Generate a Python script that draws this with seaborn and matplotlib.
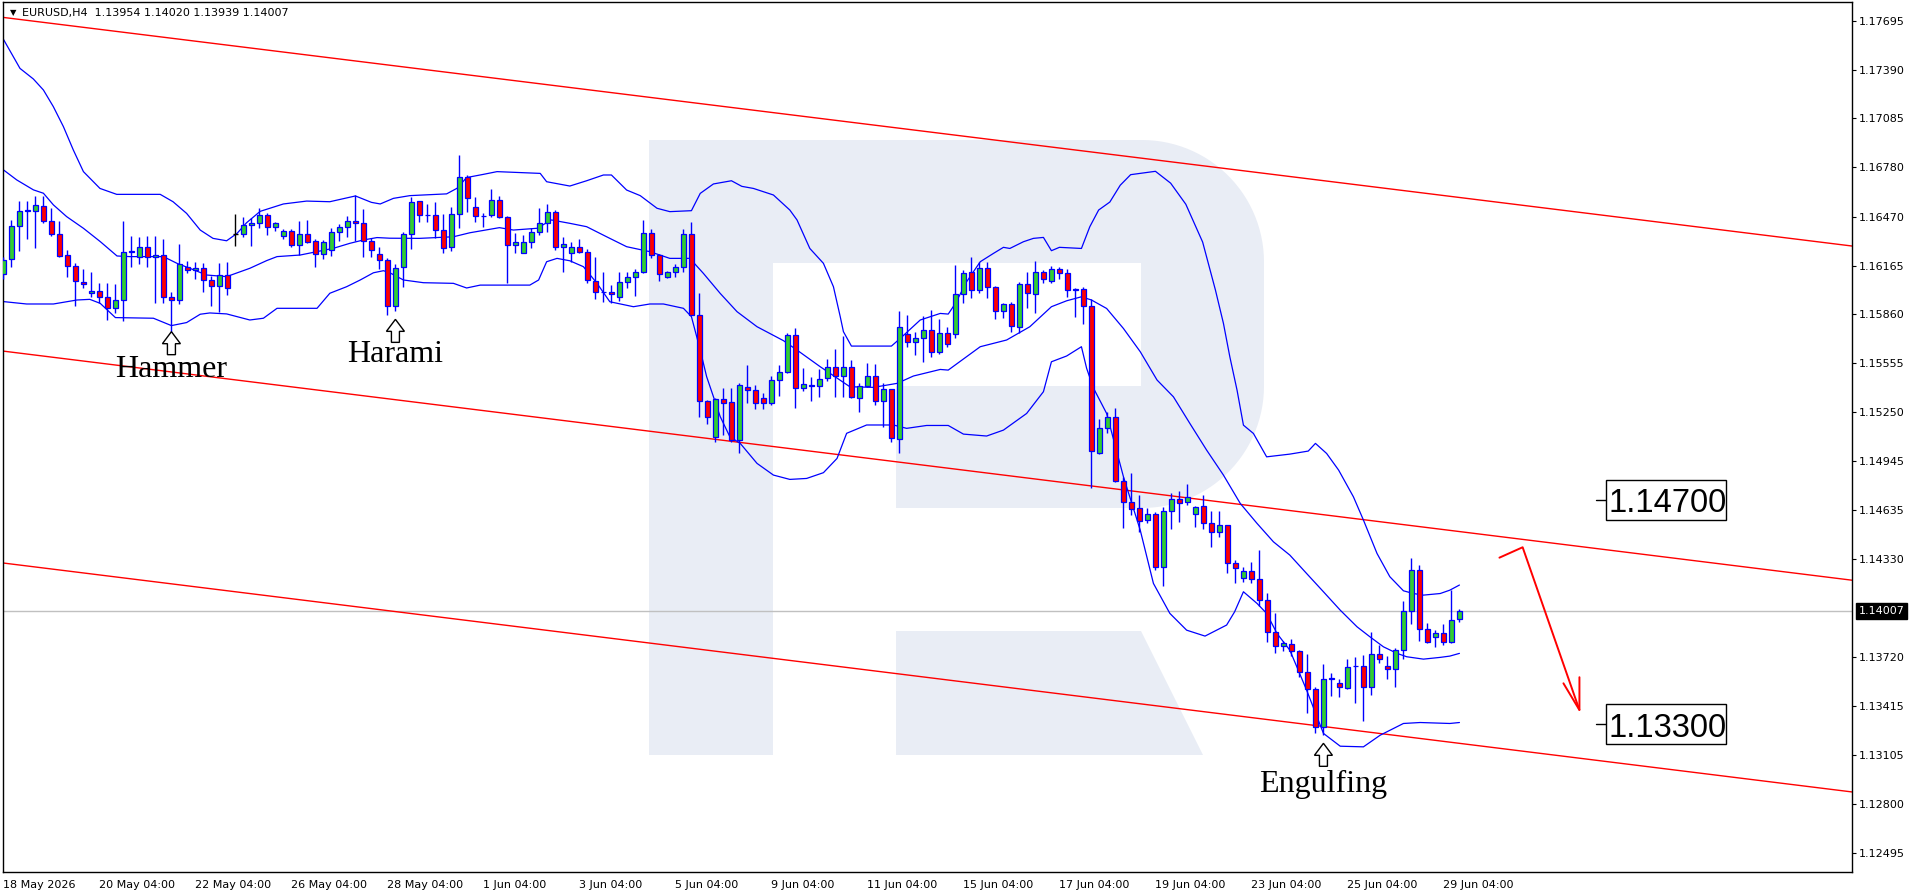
import numpy as np
import matplotlib
matplotlib.use("Agg")
import matplotlib.pyplot as plt
import seaborn as sns
from matplotlib.patches import Rectangle, Polygon
import matplotlib.transforms as mtransforms

# EURUSD H4 candles, bar index 0 = 18 May 2026
opens = [1.16111, 1.16204, 1.16410, 1.16504, 1.16506, 1.16538, 1.16444, 1.16361, 1.16229, 1.16163,
         1.16063, 1.15992, 1.16006, 1.15967, 1.15898, 1.15948, 1.16248, 1.16221, 1.16279, 1.16217,
         1.16229, 1.15967, 1.15948, 1.16154, 1.16138, 1.16150, 1.16073, 1.16036, 1.16104, 1.16361,
         1.16361, 1.16417, 1.16431, 1.16479, 1.16404, 1.16348, 1.16381, 1.16292, 1.16361, 1.16319,
         1.16238, 1.16263, 1.16373, 1.16404, 1.16444, 1.16429, 1.16319, 1.16235, 1.16198, 1.15912,
         1.16154, 1.16360, 1.16566, 1.16479, 1.16479, 1.16387, 1.16279, 1.16485, 1.16716, 1.16529,
         1.16475, 1.16479, 1.16573, 1.16466, 1.16291, 1.16246, 1.16310, 1.16373, 1.16429, 1.16498,
         1.16279, 1.16241, 1.16279, 1.16248, 1.16071, 1.15998, 1.15998, 1.15966, 1.16060, 1.16093,
         1.16123, 1.16366, 1.16231, 1.16091, 1.16123, 1.16154, 1.16360, 1.15854, 1.15319, 1.15091,
         1.15331, 1.15310, 1.15075, 1.15408, 1.15387, 1.15335, 1.15304, 1.15450, 1.15498, 1.15731,
         1.15402, 1.15412, 1.15414, 1.15460, 1.15529, 1.15477, 1.15529, 1.15335, 1.15414, 1.15477,
         1.15319, 1.15391, 1.15079, 1.15737, 1.15689, 1.15710, 1.15762, 1.15627, 1.15741, 1.15735,
         1.15985, 1.16123, 1.16012, 1.16148, 1.16029, 1.15881, 1.15923, 1.15779, 1.16048, 1.15987,
         1.16127, 1.16068, 1.16141, 1.16116, 1.16016, 1.16016, 1.15912, 1.14991, 1.15148, 1.15220,
         1.14821, 1.14685, 1.14648, 1.14575, 1.14610, 1.14279, 1.14633, 1.14704, 1.14685, 1.14610,
         1.14662, 1.14554, 1.14498, 1.14541, 1.14304, 1.14216, 1.14258, 1.14204, 1.14075, 1.13877,
         1.13787, 1.13798, 1.13756, 1.13623, 1.13519, 1.13279, 1.13585, 1.13554, 1.13523, 1.13662,
         1.13665, 1.13529, 1.13735, 1.13662, 1.13642, 1.13762, 1.14006, 1.14266, 1.13892, 1.13842,
         1.13871, 1.13815, 1.13954]
highs = [1.16217, 1.16450, 1.16569, 1.16569, 1.16600, 1.16600, 1.16523, 1.16444, 1.16263, 1.16179,
         1.16142, 1.16127, 1.16058, 1.16054, 1.16048, 1.16446, 1.16350, 1.16346, 1.16350, 1.16350,
         1.16333, 1.16002, 1.16298, 1.16196, 1.16190, 1.16179, 1.16100, 1.16179, 1.16188, 1.16488,
         1.16467, 1.16461, 1.16523, 1.16492, 1.16440, 1.16396, 1.16392, 1.16446, 1.16450, 1.16331,
         1.16325, 1.16402, 1.16425, 1.16475, 1.16604, 1.16519, 1.16335, 1.16283, 1.16210, 1.16173,
         1.16377, 1.16595, 1.16570, 1.16550, 1.16560, 1.16485, 1.16529, 1.16856, 1.16731, 1.16591,
         1.16496, 1.16641, 1.16602, 1.16475, 1.16370, 1.16354, 1.16398, 1.16523, 1.16550, 1.16512,
         1.16341, 1.16314, 1.16329, 1.16266, 1.16221, 1.16123, 1.16044, 1.16123, 1.16123, 1.16141,
         1.16450, 1.16393, 1.16235, 1.16133, 1.16175, 1.16395, 1.16437, 1.15991, 1.15325, 1.15335,
         1.15398, 1.15398, 1.15429, 1.15543, 1.15418, 1.15366, 1.15475, 1.15543, 1.15745, 1.15773,
         1.15523, 1.15471, 1.15518, 1.15579, 1.15641, 1.15725, 1.15575, 1.15429, 1.15554, 1.15548,
         1.15429, 1.15393, 1.15883, 1.15856, 1.15748, 1.15850, 1.15887, 1.15829, 1.15779, 1.16168,
         1.16137, 1.16216, 1.16189, 1.16189, 1.16037, 1.15933, 1.15939, 1.16064, 1.16123, 1.16193,
         1.16137, 1.16162, 1.16154, 1.16143, 1.16023, 1.16029, 1.15954, 1.15204, 1.15252, 1.15273,
         1.14845, 1.14866, 1.14731, 1.14648, 1.14627, 1.14654, 1.14741, 1.14756, 1.14800, 1.14662,
         1.14731, 1.14633, 1.14633, 1.14545, 1.14325, 1.14279, 1.14314, 1.14387, 1.14117, 1.13992,
         1.13821, 1.13829, 1.13762, 1.13741, 1.13533, 1.13675, 1.13621, 1.13579, 1.13706, 1.13717,
         1.13731, 1.13877, 1.13794, 1.13725, 1.13773, 1.14071, 1.14335, 1.14294, 1.13929, 1.13887,
         1.13925, 1.14141, 1.14020]
lows = [1.16079, 1.16158, 1.16258, 1.16329, 1.16277, 1.16429, 1.16350, 1.16221, 1.16096, 1.15915,
        1.16023, 1.15971, 1.15929, 1.15825, 1.15867, 1.15821, 1.16154, 1.16175, 1.16154, 1.15929,
        1.15929, 1.15746, 1.15925, 1.16117, 1.16079, 1.16002, 1.15915, 1.15877, 1.15979, 1.16288,
        1.16346, 1.16290, 1.16398, 1.16356, 1.16383, 1.16331, 1.16283, 1.16231, 1.16304, 1.16154,
        1.16206, 1.16227, 1.16321, 1.16342, 1.16321, 1.16217, 1.16217, 1.16144, 1.15854, 1.15883,
        1.16029, 1.16266, 1.16439, 1.16439, 1.16335, 1.16241, 1.16258, 1.16398, 1.16502, 1.16439,
        1.16408, 1.16466, 1.16460, 1.16058, 1.16246, 1.16241, 1.16273, 1.16354, 1.16377, 1.16262,
        1.16127, 1.16185, 1.16241, 1.16058, 1.15954, 1.15939, 1.15933, 1.15946, 1.16023, 1.15977,
        1.16121, 1.16214, 1.16071, 1.16085, 1.16096, 1.16123, 1.15854, 1.15216, 1.15173, 1.15060,
        1.15106, 1.15060, 1.14991, 1.15308, 1.15266, 1.15266, 1.15293, 1.15352, 1.15491, 1.15277,
        1.15383, 1.15321, 1.15346, 1.15446, 1.15346, 1.15346, 1.15335, 1.15248, 1.15408, 1.15293,
        1.15158, 1.15064, 1.14996, 1.15654, 1.15606, 1.15564, 1.15596, 1.15610, 1.15658, 1.15714,
        1.15933, 1.15964, 1.15996, 1.15960, 1.15829, 1.15835, 1.15752, 1.15746, 1.15902, 1.15870,
        1.16054, 1.16058, 1.16079, 1.15966, 1.15846, 1.15800, 1.14773, 1.14987, 1.15116, 1.14810,
        1.14523, 1.14606, 1.14502, 1.14554, 1.14262, 1.14164, 1.14516, 1.14560, 1.14669, 1.14533,
        1.14516, 1.14408, 1.14467, 1.14246, 1.14183, 1.14189, 1.14179, 1.14037, 1.13814, 1.13746,
        1.13758, 1.13725, 1.13596, 1.13371, 1.13242, 1.13231, 1.13475, 1.13467, 1.13519, 1.13433,
        1.13321, 1.13481, 1.13679, 1.13585, 1.13533, 1.13704, 1.13925, 1.13821, 1.13804, 1.13783,
        1.13794, 1.13808, 1.13939]
closes = [1.16200, 1.16413, 1.16506, 1.16510, 1.16542, 1.16442, 1.16361, 1.16227, 1.16163, 1.16067,
          1.16048, 1.16006, 1.15967, 1.15898, 1.15948, 1.16248, 1.16256, 1.16281, 1.16217, 1.16229,
          1.15967, 1.15948, 1.16173, 1.16136, 1.16150, 1.16075, 1.16036, 1.16104, 1.16023, 1.16361,
          1.16417, 1.16431, 1.16479, 1.16404, 1.16429, 1.16381, 1.16292, 1.16361, 1.16315, 1.16238,
          1.16311, 1.16373, 1.16404, 1.16444, 1.16429, 1.16319, 1.16263, 1.16198, 1.15912, 1.16148,
          1.16360, 1.16560, 1.16479, 1.16483, 1.16387, 1.16273, 1.16485, 1.16716, 1.16585, 1.16475,
          1.16477, 1.16573, 1.16466, 1.16291, 1.16310, 1.16310, 1.16373, 1.16429, 1.16498, 1.16279,
          1.16298, 1.16279, 1.16250, 1.16075, 1.15998, 1.16000, 1.15985, 1.16060, 1.16093, 1.16123,
          1.16366, 1.16231, 1.16112, 1.16123, 1.16158, 1.16360, 1.15854, 1.15319, 1.15216, 1.15331,
          1.15304, 1.15075, 1.15416, 1.15387, 1.15304, 1.15304, 1.15450, 1.15498, 1.15731, 1.15402,
          1.15423, 1.15416, 1.15454, 1.15529, 1.15477, 1.15529, 1.15346, 1.15414, 1.15477, 1.15319,
          1.15391, 1.15085, 1.15779, 1.15689, 1.15710, 1.15762, 1.15627, 1.15741, 1.15673, 1.15985,
          1.16116, 1.16012, 1.16148, 1.16029, 1.15881, 1.15923, 1.15787, 1.16048, 1.15991, 1.16123,
          1.16079, 1.16141, 1.16116, 1.16012, 1.16014, 1.15912, 1.15004, 1.15148, 1.15222, 1.14816,
          1.14685, 1.14641, 1.14568, 1.14610, 1.14279, 1.14633, 1.14704, 1.14679, 1.14716, 1.14654,
          1.14554, 1.14498, 1.14541, 1.14304, 1.14273, 1.14258, 1.14204, 1.14075, 1.13877, 1.13787,
          1.13804, 1.13756, 1.13623, 1.13519, 1.13279, 1.13585, 1.13587, 1.13529, 1.13658, 1.13664,
          1.13529, 1.13735, 1.13704, 1.13642, 1.13762, 1.14006, 1.14262, 1.13892, 1.13815, 1.13871,
          1.13815, 1.13950, 1.14007]

# Bollinger bands (bar position, price)
upper_x = [0, 2.07, 3.74, 5.0, 6.24, 7.5, 8.74, 10.0, 12.07, 14.16, 19.6, 21.2, 22.9, 24.6, 26.2,
           27.9, 29.2, 30.4, 32.1, 35.0, 37.9, 40.8, 44.0, 46.0, 47.1, 48.75, 50.8, 55.4, 56.7, 57.9,
           60.0, 61.7, 67.1, 67.9, 70.8, 72.9, 75.0, 76.0, 77.9, 79.6, 81.7, 83.3, 86.0, 87.1, 88.75,
           91.0, 92.3, 93.75, 96.25, 98.3, 99.2, 100.8, 102.5, 103.75, 104.6, 105.0, 106.0, 111.0,
           112.1, 114.6, 117.1, 118.1, 119.0, 120.4, 122.1, 123.75, 125.0, 125.8, 127.5, 128.75,
           130.0, 131.0, 132.0, 134.75, 135.8, 136.9, 138.3, 139.6, 140.9, 144.0, 145.9, 147.8,
           149.9, 151.5, 152.5, 153.3, 154.2, 155.0, 156.25, 157.9, 160.8, 163.1, 164.0, 165.4,
           166.9, 168.75, 170.0, 171.7, 173.3, 175.0, 176.25, 177.5, 179.6, 180.8, 182.0]
upper_y = [1.17579, 1.17397, 1.17331, 1.17262, 1.17158, 1.17033, 1.16887, 1.16752, 1.16647, 1.16610,
           1.16610, 1.16564, 1.16491, 1.16387, 1.16335, 1.16320, 1.16366, 1.16433, 1.16504, 1.16550,
           1.16568, 1.16564, 1.16600, 1.16560, 1.16550, 1.16585, 1.16602, 1.16613, 1.16648, 1.16715,
           1.16735, 1.16752, 1.16741, 1.16689, 1.16662, 1.16695, 1.16731, 1.16731, 1.16637, 1.16602,
           1.16523, 1.16502, 1.16508, 1.16616, 1.16675, 1.16695, 1.16660, 1.16647, 1.16606, 1.16512,
           1.16450, 1.16272, 1.16179, 1.16033, 1.15846, 1.15752, 1.15662, 1.15662, 1.15710, 1.15825,
           1.15866, 1.15862, 1.15929, 1.16064, 1.16189, 1.16241, 1.16279, 1.16272, 1.16314, 1.16335,
           1.16341, 1.16258, 1.16279, 1.16272, 1.16408, 1.16512, 1.16562, 1.16667, 1.16733, 1.16754,
           1.16680, 1.16548, 1.16312, 1.16012, 1.15804, 1.15595, 1.15387, 1.15168, 1.15116, 1.14970,
           1.14987, 1.15006, 1.15054, 1.14991, 1.14887, 1.14720, 1.14575, 1.14366, 1.14221, 1.14133,
           1.14116, 1.14106, 1.14116, 1.14137, 1.14169]
middle_x = [0, 1.67, 3.75, 5.0, 6.25, 7.9, 10.0, 12.1, 14.2, 15.8, 20.0, 21.7, 23.3, 25.4, 27.9,
            30.8, 32.9, 34.2, 37.1, 41.25, 43.3, 45.0, 46.7, 48.3, 52.0, 56.25, 58.3, 62.0, 63.75,
            66.7, 68.5, 70.8, 72.9, 75.4, 77.9, 80.8, 83.3, 85.8, 87.5, 89.6, 91.7, 94.2, 97.5, 99.2,
            102.1, 105.8, 108.75, 111.7, 113.75, 117.1, 118.1, 122.1, 125.4, 128.3, 131.0, 132.9,
            134.75, 136.0, 137.9, 140.0, 142.1, 144.2, 146.25, 148.3, 150.4, 152.5, 154.6, 156.7,
            158.75, 160.8, 162.9, 165.0, 167.1, 169.2, 170.8, 172.5, 174.2, 175.4, 177.5, 179.6,
            180.8, 182.0]
middle_y = [1.16763, 1.16700, 1.16638, 1.16617, 1.16544, 1.16471, 1.16398, 1.16315, 1.16225, 1.16221,
            1.16221, 1.16179, 1.16148, 1.16106, 1.16096, 1.16148, 1.16196, 1.16221, 1.16231, 1.16273,
            1.16304, 1.16325, 1.16340, 1.16336, 1.16335, 1.16345, 1.16370, 1.16402, 1.16387, 1.16398,
            1.16450, 1.16429, 1.16408, 1.16345, 1.16283, 1.16252, 1.16210, 1.16210, 1.16116, 1.15991,
            1.15877, 1.15783, 1.15696, 1.15637, 1.15533, 1.15408, 1.15404, 1.15429, 1.15475, 1.15516,
            1.15512, 1.15658, 1.15700, 1.15783, 1.15908, 1.15945, 1.15970, 1.15950, 1.15897, 1.15772,
            1.15627, 1.15450, 1.15345, 1.15179, 1.15012, 1.14856, 1.14679, 1.14554, 1.14439, 1.14356,
            1.14241, 1.14127, 1.14012, 1.13908, 1.13846, 1.13783, 1.13742, 1.13721, 1.13706, 1.13717,
            1.13725, 1.13742]
lower_x = [0, 2.9, 6.25, 9.2, 10.8, 12.1, 14.0, 18.75, 21.0, 22.9, 24.6, 25.8, 27.9, 30.8, 32.5,
           34.2, 39.2, 40.8, 42.9, 44.6, 46.25, 47.5, 48.3, 50.0, 52.5, 56.25, 57.9, 59.6, 65.8, 66.9,
           67.9, 69.2, 70.8, 72.5, 74.2, 75.8, 78.75, 80.8, 82.5, 85.0, 86.0, 87.1, 87.9, 89.6, 90.8,
           92.1, 94.2, 96.25, 98.3, 100.4, 102.5, 104.2, 105.4, 107.9, 111.25, 112.9, 115.4, 118.1,
           120.0, 122.9, 125.0, 127.9, 130.0, 131.0, 132.9, 134.75, 135.4, 136.25, 137.9, 140.0,
           142.1, 143.75, 145.8, 147.9, 150.2, 152.9, 153.9, 155.0, 156.7, 157.9, 159.2, 160.8,
           162.9, 165.0, 167.1, 170.0, 172.1, 175.0, 177.1, 180.8, 182.0]
lower_y = [1.15940, 1.15925, 1.15925, 1.15950, 1.15954, 1.15929, 1.15840, 1.15836, 1.15790, 1.15809,
           1.15861, 1.15869, 1.15863, 1.15825, 1.15836, 1.15898, 1.15898, 1.15992, 1.16033, 1.16075,
           1.16120, 1.16133, 1.16120, 1.16075, 1.16058, 1.16054, 1.16025, 1.16043, 1.16043, 1.16075,
           1.16189, 1.16210, 1.16195, 1.16158, 1.16054, 1.15939, 1.15908, 1.15925, 1.15925, 1.15898,
           1.15846, 1.15637, 1.15471, 1.15221, 1.15096, 1.15054, 1.14929, 1.14856, 1.14829, 1.14835,
           1.14871, 1.14960, 1.15117, 1.15169, 1.15169, 1.15148, 1.15166, 1.15166, 1.15112, 1.15100,
           1.15137, 1.15241, 1.15377, 1.15564, 1.15600, 1.15658, 1.15523, 1.15400, 1.15241, 1.14846,
           1.14512, 1.14179, 1.13992, 1.13887, 1.13850, 1.13919, 1.14002, 1.14127, 1.14054, 1.13992,
           1.13866, 1.13762, 1.13512, 1.13242, 1.13162, 1.13158, 1.13231, 1.13304, 1.13310, 1.13304,
           1.13310]

# descending channel (three parallel red lines), ends given as (bar, price)
channel_x = [-0.09, 231.1]
channel_y = [[1.17716, 1.16287], [1.15631, 1.14199], [1.14307, 1.12876]]

# forecast arrow
forecast_x = [187.0, 189.9, 197.0]
forecast_y = [1.14340, 1.14405, 1.13388]
head_x = [195.0, 197.0, 197.0]
head_y = [1.13555, 1.13388, 1.13593]

levels = [1.14700, 1.13300]
last_price = 1.14007

patterns = ["Hammer", "Harami", "Engulfing"]
pattern_bar = [21, 49, 165]
pattern_tip = [1.15752, 1.15829, 1.13180]
pattern_base = [1.15467, 1.15561, 1.12878]

xtick_bars = list(range(0, 181, 12))
xtick_labels = ["18 May 2026", "20 May 04:00", "22 May 04:00", "26 May 04:00", "28 May 04:00",
                "1 Jun 04:00", "3 Jun 04:00", "5 Jun 04:00", "9 Jun 04:00", "11 Jun 04:00",
                "15 Jun 04:00", "17 Jun 04:00", "19 Jun 04:00", "23 Jun 04:00", "25 Jun 04:00",
                "29 Jun 04:00"]
ytick_vals = [1.17695, 1.17390, 1.17085, 1.16780, 1.16470, 1.16165, 1.15860, 1.15555, 1.15250,
              1.14945, 1.14635, 1.14330, 1.13720, 1.13415, 1.13105, 1.12800, 1.12495]

sns.set_style("white")
plt.rcParams["font.family"] = ["DejaVu Sans"]

W, H = 1916, 896
fig = plt.figure(figsize=(W / 100, H / 100), dpi=100)
fig.patch.set_facecolor("white")

# watermark logo behind the chart (figure pixels)
bg = fig.add_axes([0, 0, 1, 1])
bg.set_xlim(0, W)
bg.set_ylim(H, 0)
bg.axis("off")
wm = "#e9edf5"
bg.add_patch(Rectangle((649, 140), 124, 615, color=wm, lw=0))
bg.add_patch(Rectangle((773, 140), 369, 123, color=wm, lw=0))
bg.add_patch(Rectangle((896, 386), 246, 122, color=wm, lw=0))
r = 122
t1 = np.linspace(np.pi / 2, 0, 30)
t2 = np.linspace(0, -np.pi / 2, 30)
bowl = [(1141, 140)]
bowl += [(1142 + r * np.cos(t), 262 - r * np.sin(t)) for t in t1]
bowl += [(1142 + r * np.cos(t), 386 - r * np.sin(t)) for t in t2]
bowl += [(1141, 508)]
bg.add_patch(Polygon(bowl, closed=True, color=wm, lw=0))
bg.add_patch(Polygon([(896, 631), (1141, 631), (1203, 755), (896, 755)], closed=True, color=wm, lw=0))

ax = fig.add_axes([2.7 / W, 24 / H, 1849.3 / W, 869.7 / H])
ax.set_zorder(1)
ax.patch.set_alpha(0)

xlo, xhi = -0.09, 231.07
ylo, yhi = 1.12376, 1.17810
px_x = (xhi - xlo) / 1849.3
px_y = (yhi - ylo) / 869.7

ax.axhline(last_price, color="#c0c0c0", lw=1, zorder=0.5)

for cy in channel_y:
    ax.plot(channel_x, cy, color="#ff0000", lw=1, zorder=1)

for bx, by in [(upper_x, upper_y), (middle_x, middle_y), (lower_x, lower_y)]:
    sns.lineplot(x=bx, y=by, ax=ax, color="#0000ff", lw=0.9, sort=False, estimator=None, zorder=2)

x = np.arange(len(opens))
o = np.array(opens)
c = np.array(closes)
hi = np.array(highs)
lo = np.array(lows)
doji = o == c
ax.vlines(x[~doji], lo[~doji], hi[~doji], color="#0000ff", lw=1, zorder=3)
ax.vlines(x[doji], lo[doji], hi[doji], color="black", lw=1, zorder=3)
fills = np.where(c >= o, "#32cd32", "#ff0000")
ax.bar(x[~doji], np.abs(c - o)[~doji], bottom=np.minimum(o, c)[~doji], width=0.55,
       color=fills[~doji], edgecolor="#0000ff", linewidth=0.9, zorder=4)
ax.hlines(o[doji], x[doji] - 0.35, x[doji] + 0.35, color="black", lw=1, zorder=4)

# pattern markers
for name, b, tip, base in zip(patterns, pattern_bar, pattern_tip, pattern_base):
    shape = [(0, 0), (9, -12), (4, -12), (4, -23), (-4, -23), (-4, -12), (-9, -12)]
    verts = [(b + sx * px_x, tip + sy * px_y) for sx, sy in shape]
    ax.add_patch(Polygon(verts, closed=True, fc="white", ec="black", lw=1, zorder=6))
    ax.text(b, base, name, ha="center", va="baseline", fontsize=23,
            family=["Liberation Serif", "DejaVu Serif"], color="black", zorder=6)

# forecast arrow
ax.plot(forecast_x, forecast_y, color="#ff0000", lw=1.4, zorder=6, solid_capstyle="round")
ax.plot(head_x, head_y, color="#ff0000", lw=1.4, zorder=6, solid_joinstyle="miter")

# target level boxes
for lv in levels:
    ax.plot([199.1, 200.3], [lv, lv], color="black", lw=1, zorder=6)
    ax.add_patch(Rectangle((200.3, lv - 19.8 * px_y), 15.0, 39.6 * px_y, fc="white",
                           ec="black", lw=1, zorder=6))
    ax.text(200.6, lv - 12.4 * px_y, f"{lv:.5f}", ha="left", va="baseline", fontsize=23.5,
            family=["Liberation Sans", "DejaVu Sans"], color="black", zorder=7)

# title
ax.text(7.5 / 1849.3, 1 - 10.5 / 869.7, "\u25bc", transform=ax.transAxes, fontsize=6,
        ha="left", va="center", color="black")
ax.text(19.5 / 1849.3, 1 - 10.5 / 869.7, "EURUSD,H4  1.13954 1.14020 1.13939 1.14007",
        transform=ax.transAxes, fontsize=8, ha="left", va="center", color="black")

# current price tag on the price scale
tr = mtransforms.blended_transform_factory(ax.transAxes, ax.transData)
ax.text(1.0 + 6.5 / 1849.3, last_price, f"{last_price:.5f}", transform=tr, fontsize=8,
        color="white", ha="left", va="center", clip_on=False, zorder=8,
        bbox=dict(boxstyle="square,pad=0.25", fc="black", ec="black"))

ax.set_xlim(xlo, xhi)
ax.set_ylim(ylo, yhi)
ax.set_xlabel("")
ax.set_ylabel("")

ax.set_xticks(xtick_bars)
ax.set_xticklabels(xtick_labels)
for t in ax.get_xticklabels():
    t.set_horizontalalignment("left")
ax.yaxis.tick_right()
ax.set_yticks(ytick_vals)
ax.set_yticklabels([f"{v:.5f}" for v in ytick_vals])
ax.tick_params(axis="x", direction="out", length=3, width=0.8, pad=3, labelsize=8, colors="black")
ax.tick_params(axis="y", direction="out", length=3, width=0.8, pad=2, labelsize=8, colors="black",
               right=True, left=False, labelright=True, labelleft=False)
for s in ax.spines.values():
    s.set_visible(True)
    s.set_color("black")
    s.set_linewidth(1)

fig.savefig("out.png", dpi=100, facecolor="white")
